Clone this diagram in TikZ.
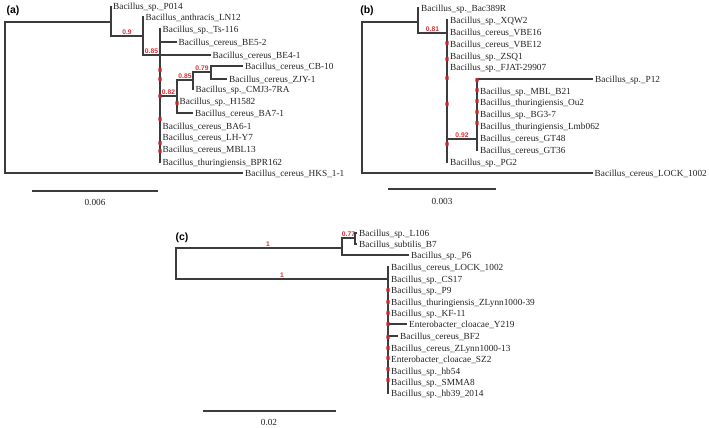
\documentclass[tikz,border=0pt]{standalone}
\usepackage{fontspec}
\setmainfont{Liberation Serif}
\newfontfamily\lsans{Liberation Sans}
\definecolor{brc}{RGB}{60,60,60}
\definecolor{labc}{RGB}{222,45,50}
\definecolor{dotc}{RGB}{196,38,44}
\definecolor{txc}{RGB}{35,35,35}
\tikzset{
  br/.style={draw=brc, line width=1.1pt},
  leaf/.style={anchor=west, inner xsep=2pt, inner ysep=0pt, text height=8pt, text depth=1.4pt,
    font=\fontsize{9.3}{11}\selectfont, text=txc},
  lab/.style={anchor=south, inner sep=0.6pt, font=\lsans\bfseries\fontsize{6.7}{7}\selectfont, text=labc, pos=0.75},
  rdot/.style={rectangle, rounded corners=0.6pt, fill=dotc, draw=none, minimum width=3.2pt, minimum height=4pt, inner sep=0pt},
  panel/.style={font=\lsans\bfseries\fontsize{10.5}{12}\selectfont, text=black, inner sep=0pt},
  scl/.style={font=\fontsize{9.3}{11}\selectfont, text=txc, inner sep=0pt}
}
\begin{document}
\begin{tikzpicture}[x=1pt,y=-1pt]
\useasboundingbox (0,0) rectangle (709,428);
% ================= panel (a)
\node[panel] (pa) at (13,11) {(a)};
\coordinate (aR) at (5,97);
\coordinate (aA) at (111,22);
\coordinate (aB) at (143,36);
\coordinate (aC) at (160,55);
\coordinate (aD) at (177,96);
\coordinate (aE) at (193,80);
\coordinate (aF) at (211,72);
\node[leaf] (aP014) at (111,6) {Bacillus\_sp.\_P014};
\node[leaf] (aLN12) at (143.5,17) {Bacillus\_anthracis\_LN12};
\node[leaf] (aTs) at (160.5,29) {Bacillus\_sp.\_Ts-116};
\node[leaf] (aBE52) at (176.5,42) {Bacillus\_cereus\_BE5-2};
\node[leaf] (aBE41) at (210.5,55) {Bacillus\_cereus\_BE4-1};
\node[leaf] (aCB10) at (243,66) {Bacillus\_cereus\_CB-10};
\node[leaf] (aZJY) at (227,79) {Bacillus\_cereus\_ZJY-1};
\node[leaf] (aCMJ) at (193.5,89) {Bacillus\_sp.\_CMJ3-7RA};
\node[leaf] (aH1582) at (177.5,101) {Bacillus\_sp.\_H1582};
\node[leaf] (aBA71) at (193,113) {Bacillus\_cereus\_BA7-1};
\node[leaf] (aBA61) at (160.5,126) {Bacillus\_cereus\_BA6-1};
\node[leaf] (aLHY7) at (160.5,137) {Bacillus\_cereus\_LH-Y7};
\node[leaf] (aMBL13) at (160.5,149) {Bacillus\_cereus\_MBL13};
\node[leaf] (aBPR) at (160.5,162) {Bacillus\_thuringiensis\_BPR162};
\node[leaf] (aHKS) at (243,173) {Bacillus\_cereus\_HKS\_1-1};
\draw[br] (aR) |- (aA);
\draw[br] (aR) |- (aHKS.west);
\draw[br] (aA) |- (aP014.west);
\draw[br] (aA) |- node[lab] (la1) {0.9} (aB);
\draw[br] (aB) |- (aLN12.west);
\draw[br] (aB) |- node[lab] (la2) {0.85} (aC);
\draw[br] (aC) |- (aTs.west);
\draw[br] (aC) |- (aBE52.west);
\draw[br] (aC) |- (aBE41.west);
\draw[br] (aC) |- node[lab] (la3) {0.82} (aD);
\draw[br] (aC) |- (aBA61.west);
\draw[br] (aC) |- (aLHY7.west);
\draw[br] (aC) |- (aMBL13.west);
\draw[br] (aC) |- (aBPR.west);
\draw[br] (aD) |- node[lab] (la4) {0.85} (aE);
\draw[br] (aD) |- (aH1582.west);
\draw[br] (aD) |- (aBA71.west);
\draw[br] (aE) |- node[lab] (la5) {0.79} (aF);
\draw[br] (aE) |- (aCMJ.west);
\draw[br] (aF) |- (aCB10.west);
\draw[br] (aF) |- (aZJY.west);
\foreach \yy in {70,79,96,119,143,151} \node[rdot] at (160,\yy) {};
\node[rdot] at (177,103) {};
\coordinate (sa1) at (32,191); \coordinate (sa2) at (158,191);
\draw[br] (sa1) -- (sa2);
\node[scl] (sal) at (95,202) {0.006};
% ================= panel (b)
\node[panel] (pb) at (367,10.5) {(b)};
\coordinate (bR) at (362,97);
\coordinate (bA) at (418,22);
\coordinate (bN) at (447,33);
\coordinate (bG) at (477,139);
\node[leaf] (bBac) at (419,8) {Bacillus\_sp.\_Bac389R};
\node[leaf] (bXQW2) at (448,20) {Bacillus\_sp.\_XQW2};
\node[leaf] (bVBE16) at (448,32) {Bacillus\_cereus\_VBE16};
\node[leaf] (bVBE12) at (448,44) {Bacillus\_cereus\_VBE12};
\node[leaf] (bZSQ1) at (448,56) {Bacillus\_sp.\_ZSQ1};
\node[leaf] (bFJAT) at (448,67) {Bacillus\_sp.\_FJAT-29907};
\node[leaf] (bP12) at (593,79) {Bacillus\_sp.\_P12};
\node[leaf] (bMBL) at (478,91) {Bacillus\_sp.\_MBL\_B21};
\node[leaf] (bOu2) at (478,102) {Bacillus\_thuringiensis\_Ou2};
\node[leaf] (bBG37) at (478,114) {Bacillus\_sp.\_BG3-7};
\node[leaf] (bLmb) at (478,126) {Bacillus\_thuringiensis\_Lmb062};
\node[leaf] (bGT48) at (478,138) {Bacillus\_cereus\_GT48};
\node[leaf] (bGT36) at (478,150) {Bacillus\_cereus\_GT36};
\node[leaf] (bPG2) at (448,162) {Bacillus\_sp.\_PG2};
\node[leaf] (bLOCK) at (592.5,173) {Bacillus\_cereus\_LOCK\_1002};
\draw[br] (bR) |- (bA);
\draw[br] (bR) |- (bLOCK.west);
\draw[br] (bA) |- (bBac.west);
\draw[br] (bA) |- node[lab] (lb1) {0.81} (bN);
\foreach \lf in {bXQW2,bVBE16,bVBE12,bZSQ1,bFJAT,bPG2} \draw[br] (bN) |- (\lf.west);
\draw[br] (bN) |- node[lab] (lb2) {0.92} (bG);
\foreach \lf in {bP12,bMBL,bOu2,bBG37,bLmb,bGT48,bGT36} \draw[br] (bG) |- (\lf.west);
\foreach \yy in {43,59,78,104,144} \node[rdot] at (447,\yy) {};
\foreach \yy in {80,90,101,112,123} \node[rdot] at (477,\yy) {};
\coordinate (sb1) at (388,189); \coordinate (sb2) at (496,189);
\draw[br] (sb1) -- (sb2);
\node[scl] (sbl) at (442,201) {0.003};
% ================= panel (c)
\node[panel] (pc) at (182,238) {(c)};
\coordinate (cR) at (176,264);
\coordinate (cP) at (342,248);
\coordinate (cQ) at (355,238);
\coordinate (cS) at (388,279);
\node[leaf] (cL106) at (357,233) {Bacillus\_sp.\_L106};
\node[leaf] (cB7) at (357,244) {Bacillus\_subtilis\_B7};
\node[leaf] (cP6) at (409,255) {Bacillus\_sp.\_P6};
\node[leaf] (cLOCK) at (389,267) {Bacillus\_cereus\_LOCK\_1002};
\node[leaf] (cCS17) at (389,279) {Bacillus\_sp.\_CS17};
\node[leaf] (cP9) at (389,290) {Bacillus\_sp.\_P9};
\node[leaf] (cZL39) at (389,302) {Bacillus\_thuringiensis\_ZLynn1000-39};
\node[leaf] (cKF11) at (389,313) {Bacillus\_sp.\_KF-11};
\node[leaf] (cY219) at (407,324) {Enterobacter\_cloacae\_Y219};
\node[leaf] (cBF2) at (398,336) {Bacillus\_cereus\_BF2};
\node[leaf] (cZL13) at (389,348) {Bacillus\_cereus\_ZLynn1000-13};
\node[leaf] (cSZ2) at (389,359) {Enterobacter\_cloacae\_SZ2};
\node[leaf] (chb54) at (389,371) {Bacillus\_sp.\_hb54};
\node[leaf] (cSMMA8) at (389,382) {Bacillus\_sp.\_SMMA8};
\node[leaf] (chb39) at (389,393) {Bacillus\_sp.\_hb39\_2014};
\draw[br] (cR) |- node[lab, pos=0.777] (lc1) {1} (cP);
\draw[br] (cR) |- node[lab] (lc2) {1} (cS);
\draw[br] (cP) |- node[lab] (lc3) {0.77} (cQ);
\draw[br] (cP) |- (cP6.west);
\draw[br] (cQ) |- (cL106.west);
\draw[br] (cQ) |- (cB7.west);
\foreach \lf in {cLOCK,cCS17,cP9,cZL39,cKF11,cY219,cBF2,cZL13,cSZ2,chb54,cSMMA8,chb39} \draw[br] (cS) |- (\lf.west);
\foreach \yy in {290,302,313,324,337,348,358,369,380} \node[rdot] at (388,\yy) {};
\coordinate (sc1) at (203,411); \coordinate (sc2) at (336,411);
\draw[br] (sc1) -- (sc2);
\node[scl] (scl0) at (269,422) {0.02};
\end{tikzpicture}
\end{document}
